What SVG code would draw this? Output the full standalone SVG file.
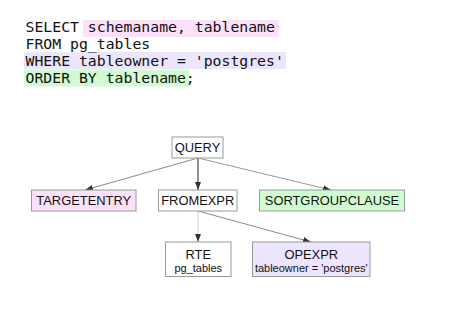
<svg xmlns="http://www.w3.org/2000/svg" width="460" height="324" viewBox="0 0 460 324">
  <style>
    .code { font-family: "DejaVu Sans Mono", "Liberation Mono", monospace; font-size: 14.8px; fill: #111; }
    .box { stroke: #9a9a9a; stroke-width: 1; }
    .lbl { font-family: "Liberation Sans", Arial, sans-serif; font-size: 12.9px; fill: #111; text-anchor: middle; }
    .sub { font-family: "Liberation Sans", Arial, sans-serif; font-size: 11px; fill: #111; text-anchor: middle; }
    .edge { fill: none; stroke-width: 1; }
  </style>
  <defs>
    <marker id="arrow" viewBox="0 0 8 8" refX="8" refY="4" markerWidth="8" markerHeight="8" markerUnits="userSpaceOnUse" orient="auto">
      <path d="M0,1 L8,4 L0,7 Z" fill="#333"/>
    </marker>
  </defs>

  <rect width="460" height="324" fill="#ffffff"/>

  <!-- SQL statement with clause highlights -->
  <g id="sql">
    <rect x="83" y="20" width="196" height="17" fill="#fde1fb"/>
    <rect x="24" y="52" width="262" height="17" fill="#ece6fc"/>
    <rect x="24" y="69.5" width="165" height="17" fill="#d2fbd2"/>
    <text class="code" x="25.5" y="31.5">SELECT schemaname, tablename</text>
    <text class="code" x="25.5" y="48.5">FROM pg_tables</text>
    <text class="code" x="25.5" y="65.5">WHERE tableowner = 'postgres'</text>
    <text class="code" x="25.5" y="82.5">ORDER BY tablename;</text>
  </g>

  <!-- connectors -->
  <g id="edges">
    <line class="edge" x1="198" y1="158" x2="85" y2="190" stroke="#8a8a8a" marker-end="url(#arrow)"/>
    <line class="edge" x1="198" y1="158" x2="198" y2="190" stroke="#222" marker-end="url(#arrow)"/>
    <line class="edge" x1="198" y1="158" x2="331" y2="190" stroke="#999" marker-end="url(#arrow)"/>
    <line class="edge" x1="198" y1="211" x2="198" y2="242" stroke="#cfcfcf" marker-end="url(#arrow)"/>
    <line class="edge" x1="198" y1="211" x2="311" y2="242" stroke="#8a8a8a" marker-end="url(#arrow)"/>
  </g>

  <g id="query">
    <rect class="box" x="172" y="137" width="51" height="21" fill="#fff"/>
    <text class="lbl" x="197.5" y="152">QUERY</text>
  </g>
  <g id="targetentry">
    <rect class="box" x="31.5" y="190" width="104.5" height="21" fill="#fde1fb"/>
    <text class="lbl" x="83.75" y="205">TARGETENTRY</text>
  </g>
  <g id="fromexpr">
    <rect class="box" x="158.5" y="190" width="78.5" height="21" fill="#fff"/>
    <text class="lbl" x="197.75" y="205">FROMEXPR</text>
  </g>
  <g id="sortgroupclause">
    <rect class="box" x="259.5" y="190" width="145" height="21" fill="#cffccf"/>
    <text class="lbl" x="332" y="205">SORTGROUPCLAUSE</text>
  </g>
  <g id="rte">
    <rect class="box" x="165.5" y="242" width="65.5" height="34.5" fill="#fff"/>
    <text class="lbl" x="198.25" y="258.5">RTE</text>
    <text class="sub" x="198.25" y="271.5">pg_tables</text>
  </g>
  <g id="opexpr">
    <rect class="box" x="252.5" y="242" width="117.5" height="34.5" fill="#ede5fd"/>
    <text class="lbl" x="311.25" y="258.5">OPEXPR</text>
    <text class="sub" x="311.25" y="271.5">tableowner = 'postgres'</text>
  </g>
</svg>
